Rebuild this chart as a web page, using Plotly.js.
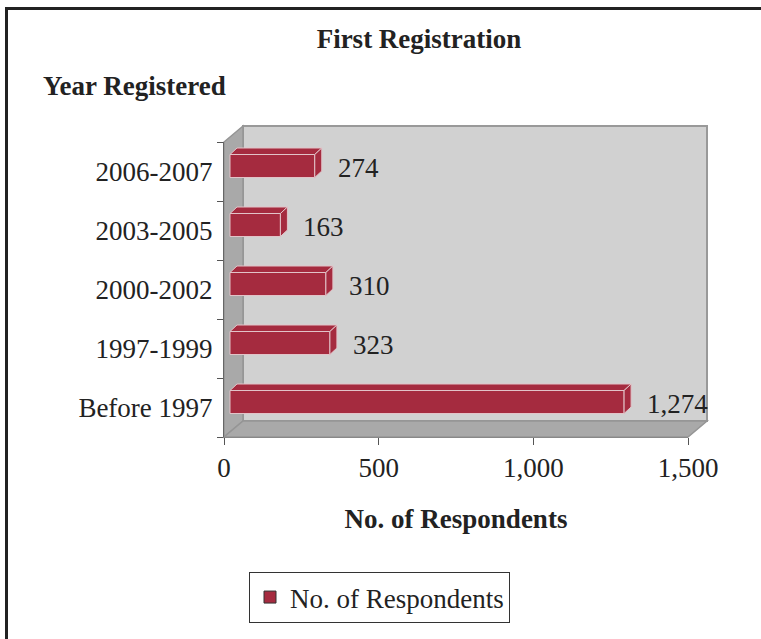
<!DOCTYPE html>
<html>
<head>
<meta charset="utf-8">
<script src="https://cdn.plot.ly/plotly-3.0.1.min.js"></script>
<style>
  html, body { margin: 0; padding: 0; background: #fff; }
  #chart { width: 761px; height: 639px; }
</style>
</head>
<body>
<div id="chart"></div>
<script>
// First Registration - 3D-look horizontal bar chart
const categories = ["Before 1997", "1997-1999", "2000-2002", "2003-2005", "2006-2007"];
const respondents = [1274, 323, 310, 163, 274];
const valueLabels = ["1,274", "323", "310", "163", "274"];
const xTickVals = [0, 500, 1000, 1500];
const xTickText = ["0", "500", "1,000", "1,500"];

const FONT = "Liberation Serif, Times New Roman, serif";
const BAR_COLOR = "#a52b3f";
const BAR_EDGE = "#e2c3c8";

// plot area in pixels (front plane of the box)
const W = 761, H = 639;
const L = 224, R = 688, T = 142, B = 437;
const plotW = R - L, plotH = B - T;
const xMax = 1500;
const pxPerX = plotW / xMax;
const pxPerY = plotH / categories.length;

// depth of the box and of the bars, in pixels
const wallDx = 19, wallDy = 16;
const barShiftPx = 6, barDepthX = 7, barDepthY = 6.5;
const barWidth = 23 / pxPerY;
const barLift = 5.5 / pxPerY;

const px2paperX = px => (px - L) / plotW;
const px2paperY = py => (B - py) / plotH;

const base = barShiftPx / pxPerX;
const ddx = barDepthX / pxPerX;
const ddy = barDepthY / pxPerY;
const offset = -barWidth / 2 + barLift;

// front faces
const barTrace = {
  type: "bar",
  orientation: "h",
  name: "No. of Respondents",
  legendgroup: "resp",
  showlegend: false,
  y: categories,
  x: respondents,
  base: base,
  width: barWidth,
  offset: offset,
  marker: { color: BAR_COLOR, line: { color: BAR_EDGE, width: 1 } },
  hoverinfo: "x+y"
};

// legend entry (square swatch with dark outline)
const legendTrace = {
  type: "scatter",
  mode: "markers",
  name: "No. of Respondents",
  legendgroup: "resp",
  x: [null],
  y: [null],
  marker: { symbol: "square", size: 12, color: BAR_COLOR, line: { color: "#333", width: 1 } }
};

// top and right faces, on an overlaid numeric axis
const topX = [], topY = [], sideX = [], sideY = [];
respondents.forEach((v, i) => {
  const y0 = i + offset;
  const y1 = y0 + barWidth;
  const x1 = base + v;
  topX.push(base, x1, x1 + ddx, base + ddx, base, null);
  topY.push(y1, y1, y1 + ddy, y1 + ddy, y1, null);
  sideX.push(x1, x1 + ddx, x1 + ddx, x1, x1, null);
  sideY.push(y0, y0 + ddy, y1 + ddy, y1, y0, null);
});

const faceStyle = {
  type: "scatter",
  mode: "lines",
  fill: "toself",
  fillcolor: BAR_COLOR,
  line: { color: BAR_EDGE, width: 1 },
  yaxis: "y2",
  showlegend: false,
  hoverinfo: "skip"
};
const topTrace = { ...faceStyle, x: topX, y: topY };
const sideTrace = { ...faceStyle, x: sideX, y: sideY };

// value labels
const annotations = respondents.map((v, i) => ({
  x: base + v + ddx,
  y: i + 0.06,
  yref: "y2",
  text: valueLabels[i],
  showarrow: false,
  xanchor: "left",
  yanchor: "middle",
  xshift: 14,
  font: { family: FONT, size: 27, color: "#222" }
}));

annotations.push({
  xref: "paper", yref: "paper",
  x: px2paperX(41), y: px2paperY(86),
  xanchor: "left", yanchor: "middle",
  text: "Year Registered",
  showarrow: false,
  font: { family: FONT, size: 27, color: "#222", weight: "bold" }
});

// walls of the box
const dxP = wallDx / plotW, dyP = wallDy / plotH;
const wallLine = { color: "#959595", width: 1.5 };
const shapes = [
  {
    type: "rect", xref: "paper", yref: "paper", layer: "below",
    x0: dxP, x1: 1 + dxP, y0: dyP, y1: 1 + dyP,
    fillcolor: "#d1d1d1", line: { color: "#999", width: 2 }
  },
  {
    type: "path", xref: "paper", yref: "paper", layer: "below",
    path: `M0,0 L0,1 L${dxP},${1 + dyP} L${dxP},${dyP} Z`,
    fillcolor: "#a9a9a9", line: wallLine
  },
  {
    type: "path", xref: "paper", yref: "paper", layer: "below",
    path: `M0,0 L1,0 L${1 + dxP},${dyP} L${dxP},${dyP} Z`,
    fillcolor: "#a9a9a9", line: wallLine
  },
  // page frame
  {
    type: "path", xref: "paper", yref: "paper", layer: "above",
    path: `M${px2paperX(6.5)},${px2paperY(H + 5)} L${px2paperX(6.5)},${px2paperY(8.5)} L${px2paperX(W + 5)},${px2paperY(8.5)}`,
    line: { color: "#222", width: 3 }
  }
];

const layout = {
  width: W,
  height: H,
  margin: { l: L, r: W - R, t: T, b: H - B, pad: 0 },
  paper_bgcolor: "#fff",
  plot_bgcolor: "rgba(0,0,0,0)",
  showlegend: true,
  title: {
    text: "First Registration",
    xref: "container", yref: "container",
    x: 419 / W, y: 1 - 39 / H,
    xanchor: "center", yanchor: "middle",
    font: { family: FONT, size: 27, color: "#222", weight: "bold" }
  },
  xaxis: {
    range: [0, xMax],
    tickvals: xTickVals,
    ticktext: xTickText,
    ticks: "outside",
    ticklen: 7,
    tickcolor: "#555",
    showline: true,
    linecolor: "#888",
    linewidth: 1,
    showgrid: false,
    zeroline: false,
    tickfont: { family: FONT, size: 27, color: "#222" },
    title: {
      text: "No. of Respondents",
      standoff: 26,
      font: { family: FONT, size: 27, color: "#222", weight: "bold" }
    },
    fixedrange: true
  },
  yaxis: {
    type: "category",
    categoryorder: "array",
    categoryarray: categories,
    range: [-0.5, categories.length - 0.5],
    tickson: "boundaries",
    ticks: "outside",
    ticklen: 6,
    tickcolor: "#555",
    ticklabelstandoff: 5,
    showline: true,
    linecolor: "#666",
    linewidth: 1,
    showgrid: false,
    zeroline: false,
    tickfont: { family: FONT, size: 27, color: "#222" },
    fixedrange: true
  },
  yaxis2: {
    overlaying: "y",
    range: [-0.5, categories.length - 0.5],
    visible: false,
    fixedrange: true
  },
  legend: {
    x: px2paperX(249), y: px2paperY(572),
    xanchor: "left", yanchor: "top",
    bordercolor: "#333", borderwidth: 1,
    bgcolor: "#fff",
    itemwidth: 30,
    font: { family: FONT, size: 27, color: "#222" }
  },
  annotations: annotations,
  shapes: shapes
};

Plotly.newPlot("chart", [barTrace, topTrace, sideTrace, legendTrace], layout, { displayModeBar: false, staticPlot: true });
</script>
</body>
</html>
